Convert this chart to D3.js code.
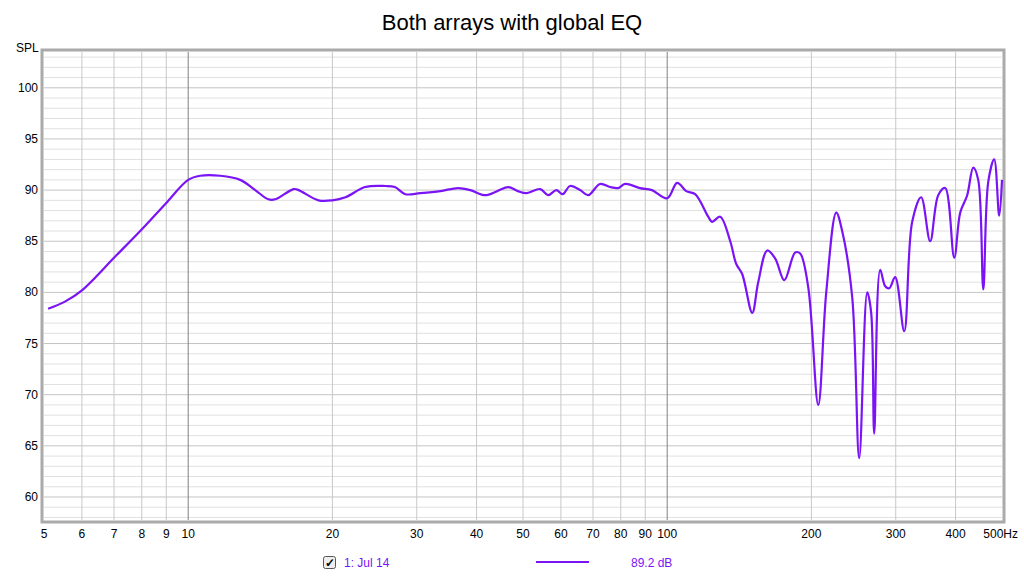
<!DOCTYPE html><html><head><meta charset="utf-8"><script src="https://cdn.jsdelivr.net/npm/d3@7"></script>
<style>body{margin:0;background:#fff;font-family:"Liberation Sans",Arial,sans-serif}</style></head><body><svg id="c" width="1024" height="577"></svg><script>
const freqs=[5.1,5.53,6.0,7.04,8.05,9.0,10,10.6,11.66,12.84,13.8,14.7,15.2,16.6,17.0,18.7,20,21.3,23.4,25.8,27.0,28.4,30.5,33.6,36.6,38.8,41.7,44.2,46.6,48.8,50.9,54.3,56.4,58.7,60.5,62.7,65.8,68.4,72.4,76.0,79,81.7,87.7,92.9,100,104.9,109.6,114.4,121.8,124.1,129,135.4,139.3,143.4,150.5,154.9,161.8,168.1,175.6,185,189.5,197,206.7,214.8,225.4,231.9,243.4,251.7,261.6,266.6,270.5,278.4,285.2,290.8,299.2,312.5,324.7,339,354,368,380.5,397.4,409,423,435.4,446,457,468,481.6,493.3,500];
const spl=[78.4,79.1,80.2,83.5,86.3,88.75,91.0,91.4,91.4,91.0,90.0,89.1,89.1,90.1,90.0,89.0,89.0,89.3,90.3,90.4,90.3,89.6,89.7,89.9,90.2,90.0,89.5,89.9,90.3,89.9,89.7,90.1,89.5,90.0,89.6,90.4,90.0,89.5,90.6,90.3,90.2,90.6,90.2,90.0,89.2,90.7,89.9,89.6,87.4,86.9,87.4,85,82.8,81.8,78.0,81,84.1,83.3,81.2,83.9,83.8,80.5,69.0,80,87.8,86,79.5,63.8,80.0,78,66.2,82.2,80.6,80.4,81.5,76.2,86.9,89.3,85,89.5,90.2,83.4,87.8,89.5,92.2,91,80.3,90.8,93.0,87.5,91];
const xTicks=[5,6,7,8,9,10,20,30,40,50,60,70,80,90,100,200,300,400,500];
const yTicks=[60,65,70,75,80,85,90,95,100];
const svg=d3.select("#c");
const L=44,R=1002,T=52,B=520;
const x=d3.scaleLog().domain([5,500]).range([L,R]);
const y=d3.scaleLinear().domain([57.75,103.5]).range([B,T]);
svg.append("text").attr("x",512).attr("y",30).attr("text-anchor","middle").attr("font-size",22).text("Both arrays with global EQ");
svg.append("text").attr("x",16).attr("y",52).attr("font-size",12).text("SPL");
svg.append("rect").attr("x",L-2).attr("y",T-2).attr("width",R-L+4).attr("height",B-T+4).attr("fill","none").attr("stroke","#aaa").attr("stroke-width",3);
const g=svg.append("g");
const minor=d3.range(58,104,1).filter(v=>v%5);
g.selectAll(".ym").data(minor).join("line").attr("x1",L).attr("x2",R).attr("y1",d=>y(d)).attr("y2",d=>y(d)).attr("stroke","#e0e0e0");
g.selectAll(".yM").data(yTicks).join("line").attr("x1",L).attr("x2",R).attr("y1",d=>y(d)).attr("y2",d=>y(d)).attr("stroke","#c4c4c4");
g.selectAll(".xv").data(xTicks.filter(d=>d>5&&d<500)).join("line").attr("y1",T).attr("y2",B).attr("x1",d=>x(d)).attr("x2",d=>x(d)).attr("stroke",d=>(d==10||d==100)?"#808080":"#c8c8c8");
svg.selectAll(".yl").data(yTicks).join("text").attr("x",38).attr("y",d=>y(d)+4).attr("text-anchor","end").attr("font-size",12).text(d=>d);
svg.selectAll(".xl").data(xTicks).join("text").attr("x",d=>d==500?1018:x(d)).attr("y",538).attr("text-anchor",d=>d==500?"end":"middle").attr("font-size",12).text(d=>d==500?"500Hz":d);
svg.append("path").datum(freqs.map((f,i)=>[f,spl[i]])).attr("fill","none").attr("stroke","#7a14f5").attr("stroke-width",2.2)
 .attr("d",d3.line().x(d=>x(d[0])).y(d=>y(d[1])).curve(d3.curveCatmullRom.alpha(0.5)));
svg.append("rect").attr("x",323.5).attr("y",556.5).attr("width",12).attr("height",12).attr("rx",2).attr("fill","#eee").attr("stroke","#555");
svg.append("text").attr("x",325).attr("y",567).attr("font-size",12).text("✓").attr("font-weight","bold");
svg.append("text").attr("x",344).attr("y",567).attr("font-size",12).attr("fill","#7a14f5").text("1: Jul 14");
svg.append("line").attr("x1",536).attr("x2",589).attr("y1",562).attr("y2",562).attr("stroke","#7a14f5").attr("stroke-width",2);
svg.append("text").attr("x",631).attr("y",567).attr("font-size",12).attr("fill","#7a14f5").text("89.2 dB");
</script></body></html>
